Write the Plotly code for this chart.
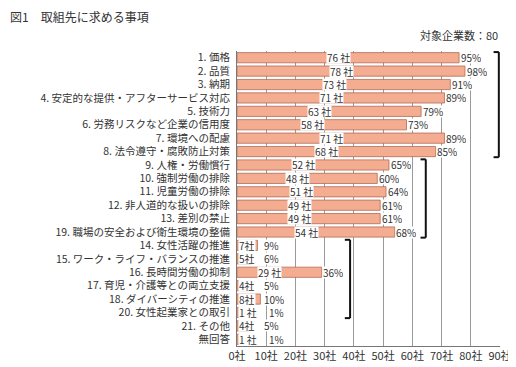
import plotly.graph_objects as go

title = "図1　取組先に求める事項"
note = "対象企業数：80"
total = 80

categories = [
    "1. 価格", "2. 品質", "3. 納期", "4. 安定的な提供・アフターサービス対応",
    "5. 技術力", "6. 労務リスクなど企業の信用度", "7. 環境への配慮", "8. 法令遵守・腐敗防止対策",
    "9. 人権・労働慣行", "10. 強制労働の排除", "11. 児童労働の排除", "12. 非人道的な扱いの排除",
    "13. 差別の禁止", "19. 職場の安全および衛生環境の整備",
    "14. 女性活躍の推進", "15. ワーク・ライフ・バランスの推進", "16. 長時間労働の抑制",
    "17. 育児・介護等との両立支援", "18. ダイバーシティの推進", "20. 女性起業家との取引",
    "21. その他", "無回答",
]
counts = [76, 78, 73, 71, 63, 58, 71, 68, 52, 48, 51, 49, 49, 54, 7, 5, 29, 4, 8, 1, 4, 1]
percents = [95, 98, 91, 89, 79, 73, 89, 85, 65, 60, 64, 61, 61, 68, 9, 6, 36, 5, 10, 1, 5, 1]
tick_vals = [0, 10, 20, 30, 40, 50, 60, 70, 80, 90]
tick_text = ["0社", "10社", "20社", "30社", "40社", "50社", "60社", "70社", "80社", "90社"]
# groups bracketed on the right: (first index, last index)
groups = [(0, 7), (8, 13), (14, 19)]

FONT = "Noto Sans CJK JP, Noto Sans, sans-serif"
TXT = "#333333"
LBL = dict(size=10, color=TXT, family=FONT)

fig = go.Figure()
fig.add_trace(go.Bar(
    y=categories, x=counts, orientation="h",
    marker=dict(color="#F5AD92", line=dict(color="#B06C56", width=0.8)),
    hoverinfo="skip",
))

ann = []
for i, (c, v, p) in enumerate(zip(categories, counts, percents)):
    if v >= 20:
        ann.append(dict(x=v / 2 + 1, y=i, xref="x", yref="y", text=f"{v} 社",
                        xanchor="right", yanchor="middle", showarrow=False,
                        bgcolor="white", borderpad=0, height=11, font=LBL))
        px = v + 0.2
    else:
        label = f"{v} 社" if v < 2 else f"{v}社"
        ann.append(dict(x=0.3, y=i, xref="x", yref="y", text=label,
                        xanchor="left", yanchor="middle", showarrow=False,
                        bgcolor="white", borderpad=0, height=11, font=LBL))
        px = max(v + 0.2, 10.5 if v < 2 else 8.8)
    ann.append(dict(x=px, y=i, xref="x", yref="y", text=f"{p}%",
                    xanchor="left", yanchor="middle", showarrow=False,
                    bgcolor="white", borderpad=0, height=11, font=LBL))

ann.append(dict(x=90, y=1.0, xref="x", yref="paper", text=note, yshift=6,
                xanchor="right", yanchor="bottom", showarrow=False,
                font=dict(size=11, color=TXT, family=FONT)))

shapes = []
bracket_x = [89.6, 64.6, 38.7]
for (a, b), bx in zip(groups, bracket_x):
    y0 = a - 0.42
    y1 = b + 0.42
    lw = 2
    shapes.append(dict(type="line", xref="x", yref="y", x0=bx, x1=bx, y0=y0, y1=y1,
                       line=dict(color="#111111", width=lw)))
    shapes.append(dict(type="line", xref="x", yref="y", x0=bx - 1.8, x1=bx, y0=y0, y1=y0,
                       line=dict(color="#111111", width=lw)))
    shapes.append(dict(type="line", xref="x", yref="y", x0=bx - 1.8, x1=bx, y0=y1, y1=y1,
                       line=dict(color="#111111", width=lw)))

fig.update_layout(
    width=516, height=367,
    margin=dict(l=229, r=12, t=43, b=17),
    paper_bgcolor="white", plot_bgcolor="white",
    showlegend=False, bargap=0.24,
    title=dict(text=title, x=0.004, xref="container", xanchor="left",
               y=1 - 10 / 367, yref="container", yanchor="middle",
               font=dict(size=12, color=TXT, family=FONT)),
    annotations=ann, shapes=shapes,
    font=dict(family=FONT, size=11, color=TXT),
    xaxis=dict(range=[0, 90], tickvals=tick_vals, ticktext=tick_text,
               showgrid=True, gridcolor="#9a9a9a", gridwidth=1,
               showline=True, linecolor="#777777", linewidth=1,
               zeroline=False, ticks="", tickfont=dict(size=11, color=TXT),
               fixedrange=True),
    yaxis=dict(autorange="reversed", showline=True, linecolor="#777777", linewidth=1,
               ticks="", tickfont=dict(size=10.5, color=TXT), ticklabelstandoff=4,
               fixedrange=True),
)

fig.write_html("out.html")
